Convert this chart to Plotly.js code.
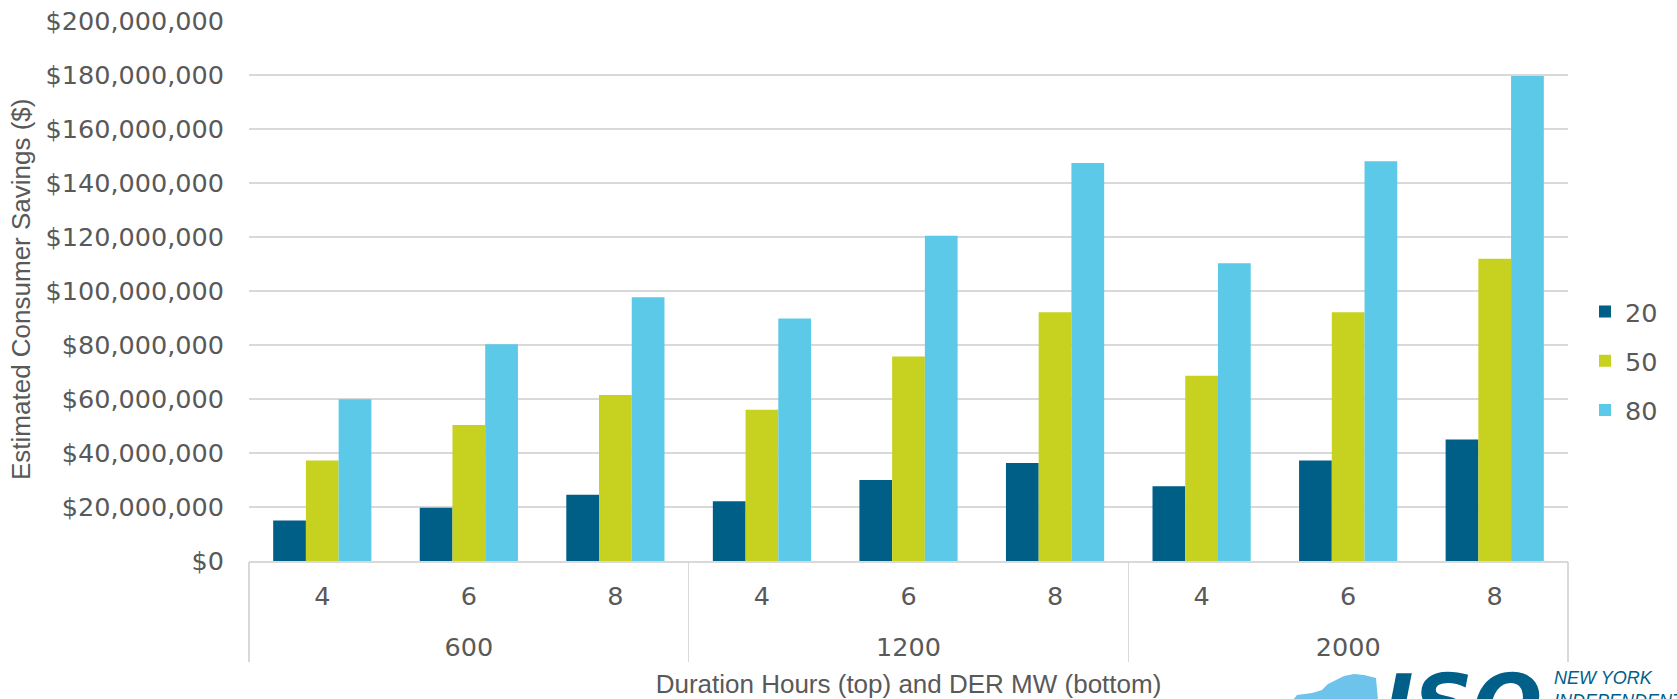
<!DOCTYPE html>
<html><head><meta charset="utf-8">
<script src="https://cdn.plot.ly/plotly-3.0.1.min.js"></script>
<style>html,body{margin:0;padding:0;background:#fff}#chart{width:1677px;height:699px}</style>
</head><body><div id="chart"></div>
<script>
// ---- data ----
const derMW = ['600','600','600','1200','1200','1200','2000','2000','2000'];
const durationHours = ['4','6','8','4','6','8','4','6','8'];
const seriesNames = ['20','50','80'];
const savings20 = [15.0e6, 19.7e6, 24.5e6, 22.1e6, 30.0e6, 36.3e6, 27.7e6, 37.2e6, 45.0e6];
const savings50 = [37.2e6, 50.4e6, 61.5e6, 56.0e6, 75.7e6, 92.1e6, 68.6e6, 92.1e6, 111.9e6];
const savings80 = [59.9e6, 80.3e6, 97.7e6, 89.8e6, 120.5e6, 147.4e6, 110.3e6, 148.1e6, 179.6e6];
const seriesColors = ['#005F87', '#C7D11F', '#5BC9E7'];
const yTitle = 'Estimated Consumer Savings ($)';
const xTitle = 'Duration Hours (top) and DER MW (bottom)';

// ---- styling ----
const W = 1677, H = 699;
const M = {l: 249, r: 109, t: 21, b: 138};
const txt = '#595959';
const FONT = '"Liberation Sans", Arial, sans-serif';
const TICKFONT = '"DejaVu Sans", "Liberation Sans", sans-serif';
const TS = 25.5;
const pw = W - M.l - M.r, ph = H - M.t - M.b;
const px = x => (x - M.l) / pw;
const py = y => (H - M.b - y) / ph;

// category index helpers (derived from the data arrays)
const idx = derMW.map((_, i) => i);
const groups = [...new Set(derMW)];
const groupCenters = groups.map(g => {
  const ii = idx.filter(i => derMW[i] === g);
  return (ii[0] + ii[ii.length - 1]) / 2;
});
const groupBounds = groups.map(g => derMW.indexOf(g) - 0.5).concat([derMW.length - 0.5]);
const xRange = [-0.5, derMW.length - 0.5];

const allSeries = [savings20, savings50, savings80];
const traces = allSeries.map((vals, i) => ({
  type: 'bar',
  name: seriesNames[i],
  legendgroup: 'g' + i,
  x: [derMW, durationHours],
  y: vals,
  marker: {color: seriesColors[i], line: {width: 0}},
  hoverinfo: 'skip'
}));
// empty placeholder traces so the label / divider axes get drawn (they draw no marks)
['x2', 'x3', 'x4'].forEach(ax => traces.push({
  type: 'scatter', mode: 'markers', x: [null], y: [null], xaxis: ax, yaxis: 'y',
  showlegend: false, hoverinfo: 'skip', marker: {opacity: 0}
}));

// NY state silhouette for the logo (pixel outline converted to paper coords)
const stateOutline = [[1293,700],[1297,695],[1312,693],[1322,690],[1328,684],[1336,680],[1344,676],[1354,674],[1364,675],[1376,678],[1378,700]];
const statePath = stateOutline.map((p, i) => (i ? 'L' : 'M') + px(p[0]).toFixed(5) + ',' + py(p[1]).toFixed(5)).join(' ') + ' Z';

const overlayBase = {
  overlaying: 'x', anchor: 'y', side: 'bottom',
  range: xRange, autorange: false, fixedrange: true,
  showgrid: false, zeroline: false, showline: false,
  tickmode: 'array',
  tickfont: {family: TICKFONT, size: TS, color: txt}
};

const layout = {
  width: W, height: H,
  margin: M,
  paper_bgcolor: '#ffffff', plot_bgcolor: '#ffffff',
  font: {family: FONT, size: 26, color: txt},
  barmode: 'group',
  bargap: 0.33, bargroupgap: 0,
  showlegend: true,
  legend: {
    x: px(1585), xanchor: 'left', y: py(361), yanchor: 'middle',
    font: {family: TICKFONT, size: TS, color: txt},
    traceorder: 'grouped', tracegroupgap: 13,
    bgcolor: 'rgba(0,0,0,0)'
  },
  // main axis: positions the bars (multicategory), draws the baseline
  xaxis: {
    type: 'multicategory',
    range: xRange, autorange: false,
    showgrid: false, zeroline: false,
    showline: true, linecolor: '#D9D9D9', linewidth: 1.5,
    ticks: '', showticklabels: false, showdividers: false,
    automargin: false
  },
  // top label row: duration hours
  xaxis2: Object.assign({}, overlayBase, {
    tickvals: idx, ticktext: durationHours, ticks: '', ticklabelstandoff: 17
  }),
  // bottom label row: DER MW, plus the axis title
  xaxis3: Object.assign({}, overlayBase, {
    tickvals: groupCenters, ticktext: groups, ticks: '', ticklabelstandoff: 68,
    title: {text: xTitle, font: {family: FONT, size: 26, color: txt}, standoff: 15}
  }),
  // group dividers
  xaxis4: Object.assign({}, overlayBase, {
    tickvals: groupBounds, ticktext: groupBounds.map(() => ''), showticklabels: false,
    ticks: 'outside', ticklen: 100, tickwidth: 1.5, tickcolor: '#D9D9D9'
  }),
  yaxis: {
    range: [0, 200e6], tick0: 0, dtick: 20e6,
    tickprefix: '$', tickformat: ',d',
    showgrid: true, gridcolor: '#D9D9D9', gridwidth: 1.3,
    zeroline: false, showline: false, ticks: '',
    ticklabelstandoff: 24,
    tickfont: {family: TICKFONT, size: TS, color: txt},
    automargin: false
  },
  shapes: [{
    type: 'path', xref: 'paper', yref: 'paper', layer: 'above',
    path: statePath, fillcolor: '#6EC3EA', line: {width: 0}
  }],
  annotations: [
    // y-axis title
    {xref: 'paper', yref: 'paper', x: px(21), y: py(290), xanchor: 'center', yanchor: 'middle',
     textangle: -90, text: yTitle, showarrow: false,
     font: {family: FONT, size: 26, color: txt}},
    // logo
    {xref: 'paper', yref: 'paper', x: px(1462), y: py(655), xanchor: 'center', yanchor: 'top',
     text: '<b><i>ISO</i></b>', showarrow: false,
     font: {family: '"DejaVu Sans", sans-serif', size: 82, color: '#00608A'}},
    {xref: 'paper', yref: 'paper', x: px(1552), y: py(666), xanchor: 'left', yanchor: 'top', align: 'left',
     text: '<i>NEW YORK<br>INDEPENDENT</i>', showarrow: false,
     font: {family: FONT, size: 18, color: '#00608A'}}
  ]
};

Plotly.newPlot('chart', traces, layout, {displayModeBar: false, staticPlot: true});
</script></body></html>
